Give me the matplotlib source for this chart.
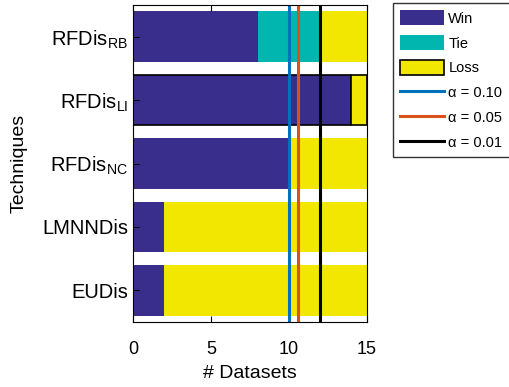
import matplotlib.pyplot as plt
import numpy as np

plt.rcParams['font.family'] = ['Liberation Sans', 'DejaVu Sans']
plt.rcParams['mathtext.fontset'] = 'custom'
plt.rcParams['mathtext.rm'] = 'Liberation Sans'

# ---------------- DATA ----------------
techniques = ['EUDis', 'LMNNDis', r'RFDis$_{\rm NC}$', r'RFDis$_{\rm LI}$', r'RFDis$_{\rm RB}$']
wins = [2, 2, 10, 14, 8]
ties = [0, 0, 0, 0, 4]
losses = [13, 13, 5, 1, 3]
alpha_labels = ['α = 0.10', 'α = 0.05', 'α = 0.01']
alpha_values = [10.0, 10.6, 12.0]

# ---------------- STYLE ----------------
c_win = '#3a2e8d'
c_tie = '#00b6ae'
c_loss = '#f1e700'
line_colors = ['#0072bd', '#d95319', '#000000']

fig = plt.figure(figsize=(5.09, 3.87), dpi=100)
ax = fig.add_axes([0.261, 0.168, 0.46, 0.819])

y = np.arange(1, len(techniques) + 1)
wins = np.array(wins)
ties = np.array(ties)
losses = np.array(losses)

# highlighted row gets black outlines
edges = ['none'] * len(techniques)
edges[3] = 'black'

h_win = ax.barh(y, wins, height=0.8, color=c_win, edgecolor=edges, linewidth=1.2, label='Win')
h_tie = ax.barh(y, ties, left=wins, height=0.8, color=c_tie, edgecolor='none', label='Tie')
h_loss = ax.barh(y, losses, left=wins + ties, height=0.8, color=c_loss, edgecolor=edges,
                 linewidth=1.2, label='Loss')

line_handles = []
for val, col, lab in zip(alpha_values, line_colors, alpha_labels):
    line_handles.append(ax.axvline(val, color=col, linewidth=2.2, label=lab))

ax.set_xlim(0, 15)
ax.set_ylim(0.5, 5.5)
ax.set_xticks([0, 5, 10, 15])
ax.set_yticks(y)
ax.set_yticklabels(techniques, fontsize=14.5)
ax.tick_params(axis='x', labelsize=13, pad=14)
ax.tick_params(direction='in', top=True, right=False, length=4)
ax.set_xlabel('# Datasets', fontsize=14, labelpad=5)
ax.set_ylabel('Techniques', fontsize=14, labelpad=10)

loss_patch = plt.Rectangle((0, 0), 1, 1, facecolor=c_loss, edgecolor='black', linewidth=1.2)
handles = [h_win, h_tie, loss_patch] + line_handles
labels = ['Win', 'Tie', 'Loss'] + alpha_labels
fig.legend(handles, labels, loc='upper left', bbox_to_anchor=(393 / 509, 1 - 3 / 387),
           fontsize=10.5, frameon=True, fancybox=False, edgecolor='black',
           handlelength=3.0, handleheight=1.2, labelspacing=0.65, borderaxespad=0,
           borderpad=0.5, handletextpad=0.3)

plt.savefig('out.png', dpi=100)
plt.close()
